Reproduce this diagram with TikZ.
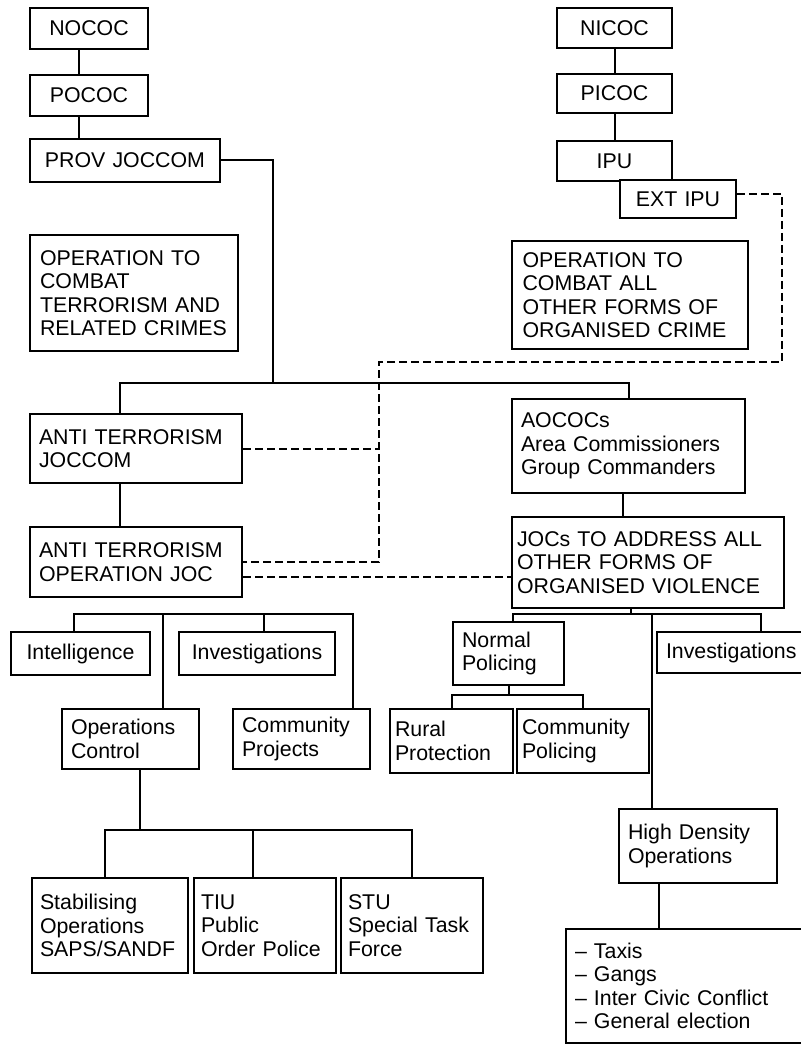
\documentclass[tikz,border=0pt]{standalone}
\usepackage{fontspec}
\setmainfont{Liberation Sans}
\usetikzlibrary{calc}
\hyphenpenalty=10000
\exhyphenpenalty=10000
\tikzset{unit/.style={draw,fill=white,line width=1.5pt,anchor=north west,inner xsep=6.75pt,inner ysep=0pt,
  align=center,font=\fontsize{16}{17.5}\selectfont},
 wordy/.style={unit,align=left},
 link/.style={line width=1.5pt},
 liaison/.style={link,dash pattern=on 5.75pt off 3.25pt}}

\begin{document}
\begin{tikzpicture}[x=0.75pt,y=-0.75pt]
\useasboundingbox (0,0) rectangle (800,1044);
\node[unit,text width=75pt,minimum height=30.75pt] (nococ) at (29,7) {NOCOC};
\node[unit,text width=75pt,minimum height=30.75pt] (pococ) at (29,74) {POCOC};
\node[unit,text width=129pt,minimum height=32.25pt] (provjoccom) at (29,138) {PROV JOCCOM};
\node[wordy,text width=141pt,minimum height=87pt,inner xsep=7.5pt] (combatterror) at (29,234)
 {OPERATION TO\\COMBAT\\TERRORISM AND\\RELATED CRIMES};
\node[unit,text width=72.75pt,minimum height=30pt] (nicoc) at (556,7) {NICOC};
\node[unit,text width=72.75pt,minimum height=29.25pt] (picoc) at (556,73) {PICOC};
\node[unit,text width=72.75pt,minimum height=30pt] (ipu) at (556,140) {IPU};
\node[unit,text width=73.5pt,minimum height=28.5pt] (extipu) at (619,179) {EXT IPU};
\node[wordy,text width=161.25pt,minimum height=81pt,inner xsep=7.875pt] (combatother) at (511,240)
 {OPERATION TO\\COMBAT ALL\\OTHER FORMS OF\\ORGANISED CRIME};
\node[wordy,text width=145.5pt,minimum height=51.75pt] (atjoccom) at (29,413) {ANTI TERRORISM\\JOCCOM};
\node[wordy,text width=145.5pt,minimum height=52.5pt] (atopjoc) at (29,526) {ANTI TERRORISM\\OPERATION JOC};
\node[wordy,text width=161.25pt,minimum height=70.5pt] (aococs) at (511,398)
 {AOCOCs\\Area Commissioners\\Group Commanders};
\node[wordy,text width=196.5pt,minimum height=68.25pt,inner xsep=3.75pt] (jocs) at (511,516)
 {JOCs TO ADDRESS ALL\\OTHER FORMS OF\\ORGANISED VIOLENCE};
\node[unit,text width=90.75pt,minimum height=32.25pt] (intel) at (10,631) {Intelligence};
\node[unit,text width=103.5pt,minimum height=32.25pt] (invleft) at (178,631) {Investigations};
\node[wordy,text width=89.25pt,minimum height=45pt] (opcontrol) at (61,708) {Operations\\Control};
\node[wordy,text width=89.25pt,minimum height=45pt] (commproj) at (232,708) {Community\\Projects};
\node[wordy,text width=69.75pt,minimum height=47.25pt] (normalpol) at (452,621) {Normal\\Policing};
\node[wordy,text width=99pt,minimum height=30.75pt] (invright) at (656,631) {Investigations};
\node[wordy,text width=84.75pt,minimum height=48pt,inner xsep=3.75pt] (rural) at (389,708) {Rural\\Protection};
\node[wordy,text width=91.5pt,minimum height=48pt,inner xsep=3.75pt] (commpol) at (516,708) {Community\\Policing};
\node[wordy,text width=105pt,minimum height=55.5pt] (hdo) at (618,808) {High Density\\Operations};
\node[wordy,text width=174pt,minimum height=85.5pt] (list) at (565,928)
 {-- Taxis\\-- Gangs\\-- Inter Civic Conflict\\-- General election};
\node[wordy,text width=105pt,minimum height=71.25pt,inner xsep=6pt] (stab) at (31,877) {Stabilising\\Operations\\SAPS/SANDF};
\node[wordy,text width=96pt,minimum height=71.25pt,inner xsep=5.25pt] (tiu) at (193,877) {TIU\\Public\\Order Police};
\node[wordy,text width=96pt,minimum height=71.25pt,inner xsep=5.25pt] (stu) at (340,877) {STU\\Special Task\\Force};

\coordinate (tbus) at (273,383);
\coordinate (tieright) at (782,362);
\coordinate (tieleft) at (379,362);
\coordinate (fanl) at (74,614);
\coordinate (fanc) at (163,614);
\coordinate (fani) at (264,614);
\coordinate (fanr) at (353,614);
\coordinate (jfan) at (631,614);
\coordinate (jfanl) at (513,614);
\coordinate (jfanm) at (652,614);
\coordinate (jfanr) at (761,614);
\coordinate (nfan) at (507,695);
\coordinate (ofan) at (140,830);
\coordinate (ofanm) at (253,830);
\coordinate (hfan) at (659,900);

\draw[link] ([xshift=-7.5pt]nococ.south) -- ([xshift=-7.5pt]pococ.north);
\draw[link] ([xshift=-7.5pt]pococ.south) -- ([xshift=-7.5pt]pococ.south |- provjoccom.north);
\draw[link] (nicoc) -- (picoc);
\draw[link] (picoc) -- (ipu);
\draw[link] (provjoccom.east) -| (tbus);
\draw[link] ([xshift=-12pt]atjoccom.north) |- (tbus) -| (aococs.north);
\draw[link] ([xshift=-12pt]atjoccom.south) -- ([xshift=-12pt]atopjoc.north);
\draw[link] ([xshift=-4pt]aococs.south) -- ([xshift=-4pt]aococs.south |- jocs.north);
\draw[liaison] ([yshift=3.75pt]extipu.east) -| (tieright) -- (tieleft) |- (atopjoc.east);
\draw[liaison] (atjoccom.east) -- (atjoccom.east -| tieleft);
\draw[liaison] ([yshift=-11pt]atopjoc.east) -- ([yshift=-11pt]atopjoc.east -| jocs.west);
\draw[link] (intel.north -| fanl) |- (fanr) -- (fanr |- commproj.north);
\draw[link] (fanc) -- (fanc |- opcontrol.north);
\draw[link] (fani) -- (fani |- invleft.north);
\draw[link] (jocs.south -| jfan) -- (jfan);
\draw[link] (normalpol.north -| jfanl) |- (jfanr) -- (jfanr |- invright.north);
\draw[link] (jfanm) -- (jfanm |- hdo.north);
\draw[link] (normalpol.south) -- (normalpol.south |- nfan);
\draw[link] (rural.north) |- (nfan) -| (commpol.north);
\draw[link] (opcontrol.south -| ofan) -- (ofan);
\draw[link] ([xshift=-3.75pt]stab.north) |- (ofan) -| (stu.north);
\draw[link] (ofanm) -- (ofanm |- tiu.north);
\draw[link] (hdo.south -| hfan) -- (list.north -| hfan);
\end{tikzpicture}
\end{document}
